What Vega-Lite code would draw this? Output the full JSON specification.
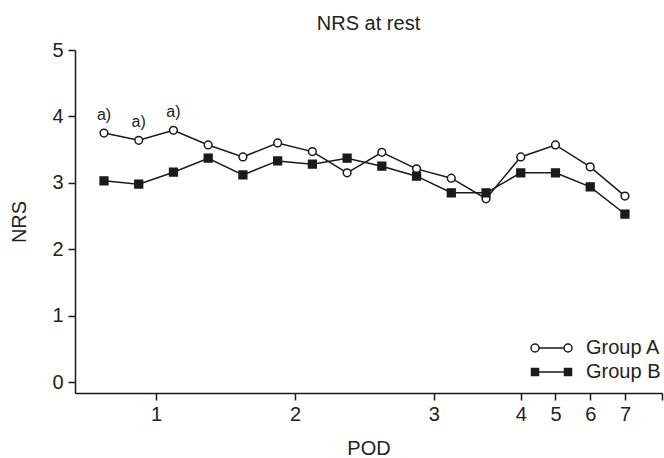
{
  "$schema": "https://vega.github.io/schema/vega-lite/v6.json",
  "width": 587,
  "height": 343,
  "autosize": {"type": "none"},
  "padding": {"left": 75, "top": 50, "right": 2, "bottom": 65},
  "background": "white",
  "title": {"text": "NRS at rest", "fontSize": 20, "font": "Liberation Sans", "fontWeight": "normal", "color": "#222", "anchor": "middle", "offset": 6},
  "data": {
    "values": [
      {"i": 1, "group": "Group A", "nrs": 3.75, "note": "a)"},
      {"i": 2, "group": "Group A", "nrs": 3.64, "note": "a)"},
      {"i": 3, "group": "Group A", "nrs": 3.79, "note": "a)"},
      {"i": 4, "group": "Group A", "nrs": 3.57, "note": ""},
      {"i": 5, "group": "Group A", "nrs": 3.39, "note": ""},
      {"i": 6, "group": "Group A", "nrs": 3.60, "note": ""},
      {"i": 7, "group": "Group A", "nrs": 3.47, "note": ""},
      {"i": 8, "group": "Group A", "nrs": 3.15, "note": ""},
      {"i": 9, "group": "Group A", "nrs": 3.46, "note": ""},
      {"i": 10, "group": "Group A", "nrs": 3.21, "note": ""},
      {"i": 11, "group": "Group A", "nrs": 3.07, "note": ""},
      {"i": 12, "group": "Group A", "nrs": 2.76, "note": ""},
      {"i": 13, "group": "Group A", "nrs": 3.39, "note": ""},
      {"i": 14, "group": "Group A", "nrs": 3.57, "note": ""},
      {"i": 15, "group": "Group A", "nrs": 3.24, "note": ""},
      {"i": 16, "group": "Group A", "nrs": 2.80, "note": ""},
      {"i": 1, "group": "Group B", "nrs": 3.03, "note": ""},
      {"i": 2, "group": "Group B", "nrs": 2.98, "note": ""},
      {"i": 3, "group": "Group B", "nrs": 3.16, "note": ""},
      {"i": 4, "group": "Group B", "nrs": 3.37, "note": ""},
      {"i": 5, "group": "Group B", "nrs": 3.12, "note": ""},
      {"i": 6, "group": "Group B", "nrs": 3.33, "note": ""},
      {"i": 7, "group": "Group B", "nrs": 3.28, "note": ""},
      {"i": 8, "group": "Group B", "nrs": 3.37, "note": ""},
      {"i": 9, "group": "Group B", "nrs": 3.25, "note": ""},
      {"i": 10, "group": "Group B", "nrs": 3.10, "note": ""},
      {"i": 11, "group": "Group B", "nrs": 2.85, "note": ""},
      {"i": 12, "group": "Group B", "nrs": 2.85, "note": ""},
      {"i": 13, "group": "Group B", "nrs": 3.15, "note": ""},
      {"i": 14, "group": "Group B", "nrs": 3.15, "note": ""},
      {"i": 15, "group": "Group B", "nrs": 2.94, "note": ""},
      {"i": 16, "group": "Group B", "nrs": 2.53, "note": ""}
    ]
  },
  "encoding": {
    "x": {
      "field": "i", "type": "quantitative",
      "scale": {"domain": [0.165, 17.067], "nice": false, "zero": false},
      "axis": {
        "title": "POD",
        "values": [2.5, 6.5, 10.5, 13, 14, 15, 16, 17.067],
        "labelExpr": "datum.value == 2.5 ? '1' : datum.value == 6.5 ? '2' : datum.value == 10.5 ? '3' : datum.value == 13 ? '4' : datum.value == 14 ? '5' : datum.value == 15 ? '6' : datum.value == 16 ? '7' : ''",
        "labelOverlap": false, "labelFlush": false, "labelBound": false,
        "labelPadding": 4, "titlePadding": 14
      }
    },
    "y": {
      "field": "nrs", "type": "quantitative",
      "scale": {"domain": [-0.165, 5], "nice": false, "zero": false},
      "axis": {"title": "NRS", "values": [0, 1, 2, 3, 4, 5], "labelPadding": 5, "titlePadding": 22, "labelFlush": false, "labelBound": false}
    }
  },
  "layer": [
    {
      "mark": {"type": "line", "color": "#1a1a1a", "strokeWidth": 1.5},
      "encoding": {"detail": {"field": "group"}}
    },
    {
      "mark": {"type": "point", "filled": true, "stroke": "#1a1a1a", "strokeWidth": 1.5, "size": 60, "opacity": 1},
      "encoding": {
        "shape": {
          "field": "group", "type": "nominal",
          "scale": {"domain": ["Group A", "Group B"], "range": ["circle", "square"]},
          "legend": null
        },
        "fill": {
          "field": "group", "type": "nominal",
          "scale": {"domain": ["Group A", "Group B"], "range": ["white", "#1a1a1a"]},
          "legend": null
        }
      }
    },
    {
      "mark": {"type": "point", "filled": true, "stroke": "#1a1a1a", "strokeWidth": 1.5, "size": 100, "opacity": 0},
      "encoding": {
        "shape": {
          "field": "group", "type": "nominal",
          "scale": {"domain": ["Group A", "Group B"], "range": ["M-2.5,0 L2.5,0 M-2.5,0 A0.8,0.8 0 1,1 -4.1,0 A0.8,0.8 0 1,1 -2.5,0 M4.1,0 A0.8,0.8 0 1,1 2.5,0 A0.8,0.8 0 1,1 4.1,0", "M-2.6,0 L2.6,0 M-4,-0.7 L-2.6,-0.7 L-2.6,0.7 L-4,0.7 Z M2.6,-0.7 L4,-0.7 L4,0.7 L2.6,0.7 Z"]},
          "legend": {
            "title": null,
            "orient": "none",
            "legendX": 466.5,
            "legendY": 288,
            "padding": 0,
            "symbolSize": 100,
            "symbolOpacity": 1,
            "labelOffset": 24.5,
            "rowPadding": 4,
            "labelFontSize": 20,
            "labelFont": "Liberation Sans",
            "labelColor": "#222"
          }
        },
        "fill": {
          "field": "group", "type": "nominal",
          "scale": {"domain": ["Group A", "Group B"], "range": ["white", "#1a1a1a"]},
          "legend": {
            "title": null,
            "orient": "none",
            "legendX": 466.5,
            "legendY": 288,
            "padding": 0,
            "symbolSize": 100,
            "symbolOpacity": 1,
            "labelOffset": 24.5,
            "rowPadding": 4,
            "labelFontSize": 20,
            "labelFont": "Liberation Sans",
            "labelColor": "#222"
          }
        }
      }
    },
    {
      "mark": {"type": "text", "dy": -18, "fontSize": 16, "font": "Liberation Sans", "color": "#222"},
      "encoding": {"text": {"field": "note"}}
    }
  ],
  "resolve": {"scale": {"shape": "independent", "fill": "independent"}},
  "config": {
    "view": {"stroke": null},
    "font": "Liberation Sans",
    "axis": {
      "grid": false,
      "domainColor": "#1a1a1a",
      "domainWidth": 1.5,
      "tickColor": "#1a1a1a",
      "tickWidth": 1.5,
      "tickSize": 7,
      "labelFontSize": 20,
      "labelColor": "#222",
      "labelFont": "Liberation Sans",
      "titleFontSize": 20,
      "titleFont": "Liberation Sans",
      "titleFontWeight": "normal",
      "titleColor": "#222"
    }
  }
}
